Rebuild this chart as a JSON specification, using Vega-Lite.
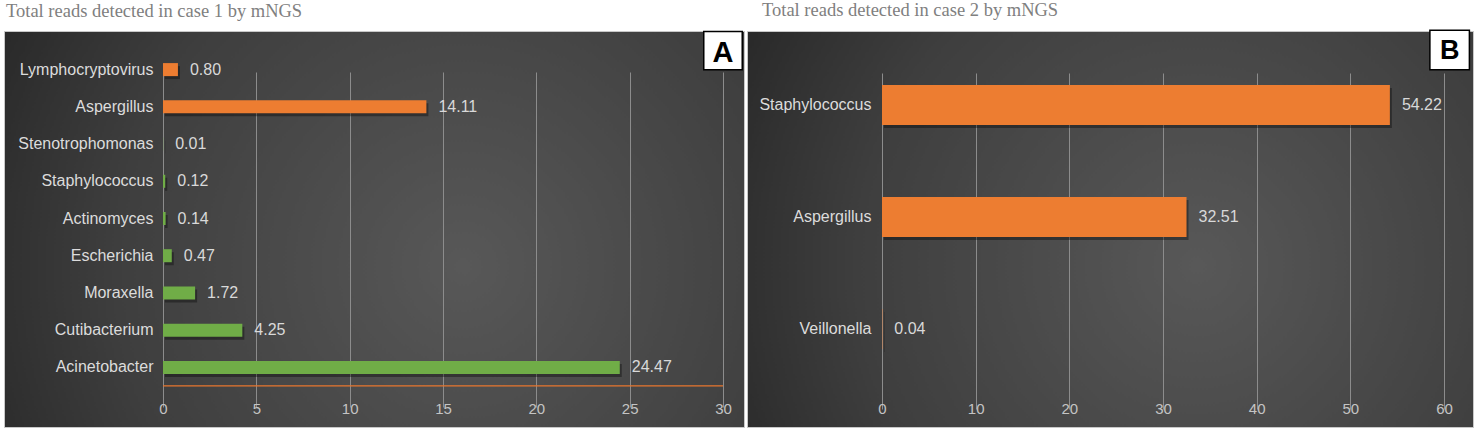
{
  "$schema": "https://vega.github.io/schema/vega-lite/v6.json",
  "background": "white",
  "padding": {"left": 3, "top": 0, "right": 0, "bottom": 0},
  "autosize": {"type": "pad"},
  "datasets": {
    "case1": [
      {"genus": "Lymphocryptovirus", "reads": 0.80, "group": "highlight"},
      {"genus": "Aspergillus", "reads": 14.11, "group": "highlight"},
      {"genus": "Stenotrophomonas", "reads": 0.01, "group": "other"},
      {"genus": "Staphylococcus", "reads": 0.12, "group": "other"},
      {"genus": "Actinomyces", "reads": 0.14, "group": "other"},
      {"genus": "Escherichia", "reads": 0.47, "group": "other"},
      {"genus": "Moraxella", "reads": 1.72, "group": "other"},
      {"genus": "Cutibacterium", "reads": 4.25, "group": "other"},
      {"genus": "Acinetobacter", "reads": 24.47, "group": "other"}
    ],
    "case2": [
      {"genus": "Staphylococcus", "reads": 54.22, "group": "highlight"},
      {"genus": "Aspergillus", "reads": 32.51, "group": "highlight"},
      {"genus": "Veillonella", "reads": 0.04, "group": "highlight"}
    ]
  },
  "bounds": "flush",
  "spacing": 3,
  "hconcat": [
    {
      "width": 740,
      "height": 396,
      "title": {"text": "Total reads detected in case 1 by mNGS", "dx": 2},
      "data": {"name": "case1"},
      "encoding": {
        "y": {
          "field": "genus",
          "type": "nominal",
          "sort": null,
          "scale": {"range": [20, 355], "paddingInner": 0.65, "paddingOuter": 0.325},
          "axis": {"offset": -159, "title": null, "domain": false, "ticks": false, "tickSize": 0, "labelPadding": 10, "grid": false}
        },
        "x": {
          "field": "reads",
          "type": "quantitative",
          "scale": {"domain": [-8.518, 31.125], "nice": false, "zero": false},
          "axis": {"values": [0, 5, 10, 15, 20, 25, 30], "title": null, "grid": true, "domain": false, "ticks": false, "offset": -30, "labelPadding": 4}
        }
      },
      "layer": [
        {"mark": {"type": "bar", "color": "black", "opacity": 0.35, "xOffset": 2, "yOffset": 3}},
        {
          "mark": {"type": "bar"},
          "encoding": {
            "color": {"field": "group", "type": "nominal", "scale": {"domain": ["highlight", "other"], "range": ["#ED7D31", "#70AD47"]}, "legend": null}
          }
        },
        {
          "mark": {"type": "text", "align": "left", "dx": 12, "fontSize": 16, "color": "#d9d9d9"},
          "encoding": {"text": {"field": "reads", "type": "quantitative", "format": ".2f"}}
        },
        {
          "transform": [{"filter": "datum.genus == 'Acinetobacter'"}],
          "mark": {"type": "rule", "color": "#E8762E", "strokeWidth": 1.3, "yOffset": 18.5},
          "encoding": {
            "x": {"datum": 0, "type": "quantitative"},
            "x2": {"datum": 30}
          }
        },
        {
          "transform": [{"filter": "datum.genus == 'Lymphocryptovirus'"}],
          "mark": {"type": "point", "shape": "square", "size": 1480, "filled": true, "fill": "white", "stroke": "black", "strokeWidth": 1.5, "opacity": 1, "yOffset": -19},
          "encoding": {
            "x": {"datum": 30.0, "type": "quantitative"}
          }
        },
        {
          "transform": [{"filter": "datum.genus == 'Lymphocryptovirus'"}],
          "mark": {"type": "text", "fontSize": 29, "fontWeight": "bold", "color": "black", "baseline": "middle", "yOffset": -17, "text": "A"},
          "encoding": {
            "x": {"datum": 30.0, "type": "quantitative"}
          }
        }
      ]
    },
    {
      "width": 726,
      "height": 396,
      "title": {"text": "Total reads detected in case 2 by mNGS", "dx": 15},
      "data": {"name": "case2"},
      "encoding": {
        "y": {
          "field": "genus",
          "type": "nominal",
          "sort": null,
          "scale": {"range": [18, 354], "paddingInner": 0.643, "paddingOuter": 0.3215},
          "axis": {"offset": -135, "title": null, "domain": false, "ticks": false, "tickSize": 0, "labelPadding": 11, "grid": false}
        },
        "x": {
          "field": "reads",
          "type": "quantitative",
          "scale": {"domain": [-14.412, 63.094], "nice": false, "zero": false},
          "axis": {"values": [0, 10, 20, 30, 40, 50, 60], "title": null, "grid": true, "domain": false, "ticks": false, "offset": -30, "labelPadding": 4}
        }
      },
      "layer": [
        {"mark": {"type": "bar", "color": "black", "opacity": 0.35, "xOffset": 2, "yOffset": 3}},
        {
          "mark": {"type": "bar"},
          "encoding": {
            "color": {"field": "group", "type": "nominal", "scale": {"domain": ["highlight", "other"], "range": ["#ED7D31", "#70AD47"]}, "legend": null}
          }
        },
        {
          "mark": {"type": "text", "align": "left", "dx": 12, "fontSize": 16, "color": "#d9d9d9"},
          "encoding": {"text": {"field": "reads", "type": "quantitative", "format": ".2f"}}
        },
        {
          "transform": [{"filter": "datum.genus == 'Staphylococcus'"}],
          "mark": {"type": "point", "shape": "square", "size": 1560, "filled": true, "fill": "white", "stroke": "black", "strokeWidth": 1.5, "opacity": 1, "yOffset": -55},
          "encoding": {
            "x": {"datum": 60.6, "type": "quantitative"}
          }
        },
        {
          "transform": [{"filter": "datum.genus == 'Staphylococcus'"}],
          "mark": {"type": "text", "fontSize": 27, "fontWeight": "bold", "color": "black", "baseline": "middle", "yOffset": -54, "text": "B"},
          "encoding": {
            "x": {"datum": 60.6, "type": "quantitative"}
          }
        }
      ]
    }
  ],
  "config": {
    "font": "Liberation Sans",
    "view": {
      "fill": {
        "gradient": "radial",
        "x1": 0.62, "y1": 0.55, "r1": 0,
        "x2": 0.62, "y2": 0.55, "r2": 0.78,
        "stops": [
          {"offset": 0, "color": "#585858"},
          {"offset": 0.6, "color": "#3e3e3e"},
          {"offset": 1, "color": "#222222"}
        ]
      },
      "stroke": "#c8c8c8",
      "strokeWidth": 1
    },
    "title": {
      "anchor": "start",
      "font": "Liberation Serif",
      "fontSize": 18.5,
      "fontWeight": "normal",
      "color": "#808080",
      "offset": 8
    },
    "axis": {
      "labelFont": "Liberation Sans",
      "labelFontSize": 16,
      "labelColor": "#dcdcdc",
      "gridColor": "#8c8c8c",
      "gridWidth": 1
    },
    "axisX": {"labelFontSize": 15, "labelColor": "#c4c4c4"}
  }
}
